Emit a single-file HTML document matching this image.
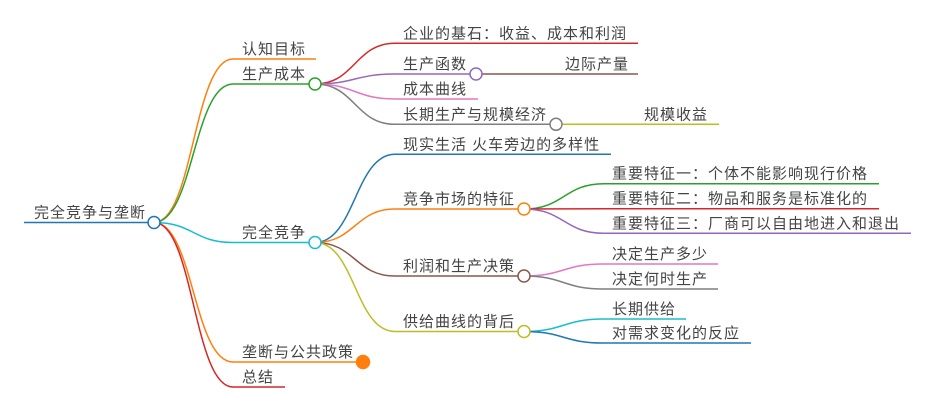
<!DOCTYPE html>
<html>
<head>
<meta charset="utf-8">
<style>
  html, body { margin:0; padding:0; background:#fff; }
  svg { display:block; }
  text { font-family: "Liberation Sans", "Noto Sans CJK SC", sans-serif; font-size:15px; letter-spacing:1px; fill:#444; }
</style>
</head>
<body>
<svg width="937" height="412" viewBox="0 0 937 412" xmlns="http://www.w3.org/2000/svg">
  <g fill="none" stroke-width="1.5">
    <!-- root links -->
    <path d="M154,222.5 C193.5,222.5 193.5,59 233,59" stroke="#ff7f0e"/>
    <path d="M154,222.5 C193.5,222.5 193.5,84 233,84" stroke="#2ca02c"/>
    <path d="M154,222.5 C193.5,222.5 193.5,242.5 233,242.5" stroke="#17becf"/>
    <path d="M154,222.5 C193.5,222.5 193.5,362 233,362" stroke="#ff7f0e"/>
    <path d="M154,222.5 C193.5,222.5 193.5,387 233,387" stroke="#d62728"/>
    <!-- 生产成本 links -->
    <path d="M315,84 C355,84 355,43.3 395,43.3" stroke="#d62728"/>
    <path d="M315,84 C355,84 355,74 395,74" stroke="#9467bd"/>
    <path d="M315,84 C355,84 355,99 395,99" stroke="#e377c2"/>
    <path d="M315,84 C355,84 355,124.3 395,124.3" stroke="#7f7f7f"/>
    <!-- 完全竞争 links -->
    <path d="M315,242.5 C355,242.5 355,154.3 395,154.3" stroke="#1f77b4"/>
    <path d="M315,242.5 C355,242.5 355,209 395,209" stroke="#ff7f0e"/>
    <path d="M315,242.5 C355,242.5 355,276 395,276" stroke="#8c564b"/>
    <path d="M315,242.5 C355,242.5 355,331.5 395,331.5" stroke="#bcbd22"/>
    <!-- 竞争市场的特征 links -->
    <path d="M524,209 C564,209 564,183.7 604,183.7" stroke="#2ca02c"/>
    <path d="M524,209 C564,209 564,208.7 604,208.7" stroke="#d62728"/>
    <path d="M524,209 C564,209 564,233.3 604,233.3" stroke="#9467bd"/>
    <!-- 利润 links -->
    <path d="M524,276 C563.5,276 563.5,264 603,264" stroke="#e377c2"/>
    <path d="M524,276 C563.5,276 563.5,289 603,289" stroke="#7f7f7f"/>
    <!-- 供给 links -->
    <path d="M524,331.5 C563.5,331.5 563.5,319 603,319" stroke="#17becf"/>
    <path d="M524,331.5 C563.5,331.5 563.5,343 603,343" stroke="#1f77b4"/>

    <!-- node underlines -->
    <line x1="24" y1="222.5" x2="154" y2="222.5" stroke="#1f77b4"/>
    <line x1="233" y1="59" x2="316" y2="59" stroke="#ff7f0e"/>
    <line x1="233" y1="84" x2="315" y2="84" stroke="#2ca02c"/>
    <line x1="233" y1="242.5" x2="315" y2="242.5" stroke="#17becf"/>
    <line x1="233" y1="362" x2="363" y2="362" stroke="#ff7f0e"/>
    <line x1="233" y1="387" x2="285" y2="387" stroke="#d62728"/>

    <line x1="395" y1="43.3" x2="638" y2="43.3" stroke="#d62728"/>
    <line x1="395" y1="74" x2="476" y2="74" stroke="#9467bd"/>
    <line x1="476" y1="74" x2="638" y2="74" stroke="#8c564b"/>
    <line x1="395" y1="99" x2="478" y2="99" stroke="#e377c2"/>
    <line x1="395" y1="124.3" x2="556" y2="124.3" stroke="#7f7f7f"/>
    <line x1="556" y1="124.3" x2="719" y2="124.3" stroke="#bcbd22"/>

    <line x1="395" y1="154.3" x2="611" y2="154.3" stroke="#1f77b4"/>
    <line x1="395" y1="209" x2="524" y2="209" stroke="#ff7f0e"/>
    <line x1="395" y1="276" x2="524" y2="276" stroke="#8c564b"/>
    <line x1="395" y1="331.5" x2="524" y2="331.5" stroke="#bcbd22"/>

    <line x1="604" y1="183.7" x2="879" y2="183.7" stroke="#2ca02c"/>
    <line x1="604" y1="208.7" x2="879" y2="208.7" stroke="#d62728"/>
    <line x1="604" y1="233.3" x2="911" y2="233.3" stroke="#9467bd"/>
    <line x1="603" y1="264" x2="718" y2="264" stroke="#e377c2"/>
    <line x1="603" y1="289" x2="718" y2="289" stroke="#7f7f7f"/>
    <line x1="603" y1="319" x2="686" y2="319" stroke="#17becf"/>
    <line x1="603" y1="343" x2="751" y2="343" stroke="#1f77b4"/>

    <!-- circles -->
    <circle cx="154" cy="222.5" r="6" fill="#fff" stroke="#1f77b4"/>
    <circle cx="315" cy="84" r="6" fill="#fff" stroke="#2ca02c"/>
    <circle cx="315" cy="242.5" r="6" fill="#fff" stroke="#17becf"/>
    <circle cx="363" cy="362" r="6.5" fill="#ff7f0e" stroke="#ff7f0e"/>
    <circle cx="476" cy="74" r="6" fill="#fff" stroke="#9467bd"/>
    <circle cx="556" cy="124.3" r="6" fill="#fff" stroke="#7f7f7f"/>
    <circle cx="524" cy="209" r="6" fill="#fff" stroke="#ff7f0e"/>
    <circle cx="524" cy="276" r="6" fill="#fff" stroke="#8c564b"/>
    <circle cx="524" cy="331.5" r="6" fill="#fff" stroke="#bcbd22"/>
  </g>

  <!-- labels -->
  <text x="34" y="217.5">完全竞争与垄断</text>
  <text x="242" y="54">认知目标</text>
  <text x="242" y="79">生产成本</text>
  <text x="242" y="237.5">完全竞争</text>
  <text x="242" y="357">垄断与公共政策</text>
  <text x="242" y="382">总结</text>

  <text x="403" y="38.3">企业的基石：收益、成本和利润</text>
  <text x="403" y="69">生产函数</text>
  <text x="565" y="69">边际产量</text>
  <text x="403" y="94">成本曲线</text>
  <text x="403" y="119.3">长期生产与规模经济</text>
  <text x="644" y="119.3">规模收益</text>

  <text x="403" y="149.3">现实生活 火车旁边的多样性</text>
  <text x="403" y="204">竞争市场的特征</text>
  <text x="403" y="271">利润和生产决策</text>
  <text x="403" y="326.5">供给曲线的背后</text>

  <text x="612" y="178.7">重要特征一：个体不能影响现行价格</text>
  <text x="612" y="203.7">重要特征二：物品和服务是标准化的</text>
  <text x="612" y="228.3">重要特征三：厂商可以自由地进入和退出</text>
  <text x="612" y="259">决定生产多少</text>
  <text x="612" y="284">决定何时生产</text>
  <text x="612" y="314">长期供给</text>
  <text x="612" y="338">对需求变化的反应</text>
</svg>
</body>
</html>
